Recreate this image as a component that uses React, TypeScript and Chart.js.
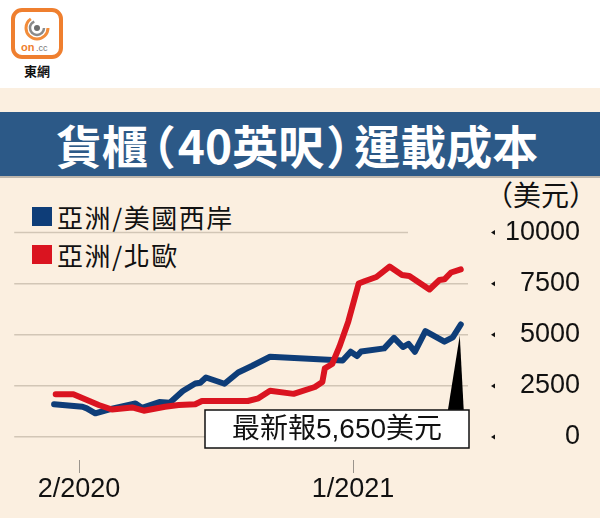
import React, { useEffect, useRef } from 'react';
import { Chart, registerables } from 'chart.js';

Chart.register(...registerables);

// ---- data ----
const titleText = ['貨櫃', '（', '40英呎', '）', '運載成本'];
const seriesNames = ['亞洲/美國西岸', '亞洲/北歐'];
const unitLabel = '（美元）';
const latestLabel = '最新報5,650美元';

const blueDates = [
  '2020-01-01', '2020-02-05', '2020-02-10', '2020-02-20', '2020-03-07', '2020-04-09',
  '2020-04-17', '2020-05-08', '2020-05-21', '2020-06-06', '2020-06-21', '2020-06-27',
  '2020-07-04', '2020-07-27', '2020-08-13', '2020-08-30', '2020-09-21', '2020-12-19',
  '2020-12-29', '2021-01-06', '2021-01-11', '2021-02-08', '2021-02-19', '2021-03-01',
  '2021-03-08', '2021-03-16', '2021-03-29', '2021-04-21', '2021-05-01', '2021-05-11',
];
const blueValues = [
  1600, 1480, 1400, 1160, 1345, 1640,
  1420, 1710, 1680, 2250, 2615, 2655,
  2910, 2605, 3155, 3470, 3925, 3740,
  4170, 3960, 4180, 4335, 4850, 4400,
  4550, 4170, 5175, 4660, 4875, 5500,
];

const redDates = [
  '2020-01-03', '2020-01-25', '2020-02-24', '2020-03-11', '2020-04-05', '2020-04-19',
  '2020-05-15', '2020-06-01', '2020-06-21', '2020-06-29', '2020-08-25', '2020-09-07',
  '2020-09-21', '2020-10-20', '2020-11-15', '2020-11-24', '2020-11-27', '2020-12-06',
  '2020-12-15', '2020-12-26', '2021-01-08', '2021-01-16', '2021-01-30', '2021-02-14',
  '2021-02-28', '2021-03-09', '2021-04-03', '2021-04-15', '2021-04-21', '2021-04-29',
  '2021-05-11',
];
const redValues = [
  2090, 2090, 1565, 1345, 1445, 1285,
  1480, 1565, 1600, 1760, 1760, 1890,
  2260, 2110, 2445, 2690, 3360, 3570,
  4415, 5640, 7505, 7630, 7825, 8335,
  7920, 7875, 7215, 7675, 7710, 8045,
  8200,
];

const yTickValues = [0, 2500, 5000, 7500, 10000];
const xTickDates = ['2020-02-01', '2021-01-01'];
const xTickLabels = ['2/2020', '1/2021'];
const xRangeDates = ['2019-11-13', '2021-05-20'];

// ---- styles ----
const BLUE = '#0E3D78';
const RED = '#DA1420';
const GRID = '#D2C6B6';
const CREAM = '#FBEFE0';
const LATIN = '"Liberation Sans", Arial, sans-serif';
const CJK = '"Noto Sans CJK TC", "Noto Sans CJK SC", sans-serif';

function toMonth(d: string): number {
  const [y, m, day] = d.split('-').map(Number);
  const dim = new Date(y, m, 0).getDate();
  return (y - 2020) * 12 + (m - 1) + (day - 1) / dim;
}

const decorPlugin = {
  id: 'decor',
  beforeDatasetsDraw(chart: any) {
    const { ctx, chartArea } = chart;
    const y = chart.scales.y.getPixelForValue(10000);
    ctx.save();
    ctx.strokeStyle = GRID;
    ctx.lineWidth = 1.5;
    ctx.beginPath();
    ctx.moveTo(chartArea.left, y);
    ctx.lineTo(chartArea.right - 60, y);
    ctx.stroke();
    ctx.restore();
  },
  afterDatasetsDraw(chart: any) {
    const { ctx, chartArea } = chart;
    const meta = chart.getDatasetMeta(1);
    const last = meta.data[meta.data.length - 1];
    const boxRight = chartArea.right + 1;
    const boxLeft = boxRight - 264;
    const boxTop = chartArea.bottom - 27;
    const boxH = 38;
    ctx.save();
    // spike
    ctx.fillStyle = '#000';
    ctx.beginPath();
    ctx.moveTo(last.x - 1, last.y + 11);
    ctx.lineTo(last.x + 3, boxTop + 1);
    ctx.lineTo(last.x - 13, boxTop + 1);
    ctx.closePath();
    ctx.fill();
    // box
    ctx.fillStyle = '#fff';
    ctx.fillRect(boxLeft, boxTop, boxRight - boxLeft, boxH);
    ctx.strokeStyle = '#111';
    ctx.lineWidth = 1.5;
    ctx.strokeRect(boxLeft, boxTop, boxRight - boxLeft, boxH);
    ctx.fillStyle = '#111';
    ctx.font = `28px "Liberation Sans", ${CJK}`;
    ctx.textAlign = 'center';
    ctx.textBaseline = 'middle';
    ctx.fillText(latestLabel, (boxLeft + boxRight) / 2, boxTop + boxH / 2 + 1);
    ctx.restore();
  },
  afterDraw(chart: any) {
    const { ctx, chartArea } = chart;
    ctx.save();
    // y tick triangles
    ctx.fillStyle = '#111';
    chart.scales.y.ticks.forEach((t: any) => {
      const y = chart.scales.y.getPixelForValue(t.value);
      const x = chartArea.right + 23;
      ctx.beginPath();
      ctx.moveTo(x, y);
      ctx.lineTo(x + 4, y - 2.5);
      ctx.lineTo(x + 4, y + 2.5);
      ctx.closePath();
      ctx.fill();
    });
    // x tick marks
    ctx.strokeStyle = '#9a948c';
    ctx.lineWidth = 1;
    chart.scales.x.ticks.forEach((t: any) => {
      const x = Math.round(chart.scales.x.getPixelForValue(t.value)) + 0.5;
      ctx.beginPath();
      ctx.moveTo(x, chartArea.bottom + 23);
      ctx.lineTo(x, chartArea.bottom + 36);
      ctx.stroke();
    });
    ctx.restore();
  },
};

function Logo() {
  return (
    <svg width={80} height={90} style={{ position: 'absolute', left: 0, top: 0 }}>
      <rect x={13} y={10} width={48} height={47} rx={9} ry={9} fill="#fff" stroke="#EF7F2F" strokeWidth={4} />
      <circle cx={37} cy={28} r={11} fill="none" stroke="#F28C3A" strokeWidth={3} strokeDasharray="45 30" />
      <circle cx={37} cy={28} r={7} fill="none" stroke="#8a8a8a" strokeWidth={2.5} strokeDasharray="30 14" />
      <circle cx={37} cy={28} r={3} fill="#6e6e6e" />
      <text x={21} y={51} fontFamily={LATIN} fontSize={11} fontWeight="bold" fill="#EF7F2F">on</text>
      <text x={36} y={51} fontFamily={LATIN} fontSize={9} fill="#777">.cc</text>
      <text x={37} y={76} textAnchor="middle" fontFamily={CJK} fontSize={13} fontWeight="bold" fill="#111">東網</text>
    </svg>
  );
}

export default function App() {
  const canvasRef = useRef<HTMLCanvasElement | null>(null);

  useEffect(() => {
    const canvas = canvasRef.current;
    if (!canvas) return;
    const chart = new Chart(canvas, {
      type: 'line',
      data: {
        datasets: [
          {
            label: seriesNames[1],
            data: redDates.map((d, i) => ({ x: toMonth(d), y: redValues[i] })),
            borderColor: RED,
            backgroundColor: RED,
            borderWidth: 6,
            pointRadius: 0,
            tension: 0,
            borderJoinStyle: 'round',
            borderCapStyle: 'round',
          },
          {
            label: seriesNames[0],
            data: blueDates.map((d, i) => ({ x: toMonth(d), y: blueValues[i] })),
            borderColor: BLUE,
            backgroundColor: BLUE,
            borderWidth: 6,
            pointRadius: 0,
            tension: 0,
            borderJoinStyle: 'round',
            borderCapStyle: 'round',
          },
        ],
      },
      options: {
        responsive: false,
        animation: false,
        layout: { padding: { left: 12, top: 232.5, right: 20, bottom: 0 } },
        plugins: { legend: { display: false }, tooltip: { enabled: false } },
        scales: {
          x: {
            type: 'linear',
            min: toMonth(xRangeDates[0]),
            max: toMonth(xRangeDates[1]),
            grid: { display: false, drawTicks: false },
            border: { display: false },
            afterBuildTicks: (s: any) => {
              s.ticks = xTickDates.map((d) => ({ value: toMonth(d) }));
            },
            afterFit: (s: any) => {
              s.height = 81;
            },
            ticks: {
              autoSkip: false,
              maxRotation: 0,
              padding: 36,
              color: '#111',
              font: { family: LATIN, size: 27 },
              callback: (_v: any, i: number) => xTickLabels[i],
            },
          },
          y: {
            position: 'right',
            min: 0,
            max: 10000,
            grid: {
              color: (c: any) => (c.tick && c.tick.value === 10000 ? 'rgba(0,0,0,0)' : GRID),
              lineWidth: 1.5,
              drawTicks: false,
            },
            border: { display: false },
            afterBuildTicks: (s: any) => {
              s.ticks = yTickValues.map((v) => ({ value: v }));
            },
            afterFit: (s: any) => {
              s.width = 112;
            },
            ticks: {
              crossAlign: 'far',
              padding: 15,
              color: '#111',
              font: { family: LATIN, size: 27 },
              callback: (v: any) => String(v),
            },
          },
        },
      } as any,
      plugins: [decorPlugin],
    });
    return () => chart.destroy();
  }, []);

  return (
    <div style={{ position: 'absolute', left: 0, top: 0, width: 600, height: 518, background: CREAM, overflow: 'hidden' }}>
      <div style={{ position: 'absolute', left: 0, top: 0, width: 600, height: 88, background: '#fff' }} />
      <Logo />
      <div
        style={{
          position: 'absolute', left: 0, top: 112, width: 600, height: 64,
          background: '#2C5987', borderBottom: '2px solid #BDB5AB',
          color: '#fff', fontFamily: CJK, fontWeight: 700, fontSize: 46,
          lineHeight: '64px', textAlign: 'center', whiteSpace: 'nowrap',
        }}
      >
        <span style={{ position: 'relative', left: -3 }}>
          {titleText[0]}
          <span style={{ margin: '0 2px 0 -18px' }}>{titleText[1]}</span>
          {titleText[2]}
          <span style={{ margin: '0 -18px 0 2px' }}>{titleText[3]}</span>
          {titleText[4]}
        </span>
      </div>
      <div style={{ position: 'absolute', left: 32, top: 207, width: 20, height: 19, background: BLUE }} />
      <div style={{ position: 'absolute', left: 57, top: 201, fontFamily: CJK, fontSize: 26, letterSpacing: 1.5, lineHeight: '32px', color: '#111', whiteSpace: 'nowrap' }}>
        {seriesNames[0]}
      </div>
      <div style={{ position: 'absolute', left: 32, top: 245, width: 20, height: 19, background: RED }} />
      <div style={{ position: 'absolute', left: 57, top: 239, fontFamily: CJK, fontSize: 26, letterSpacing: 1.5, lineHeight: '32px', color: '#111', whiteSpace: 'nowrap' }}>
        {seriesNames[1]}
      </div>
      <div style={{ position: 'absolute', left: 485, top: 179, fontFamily: CJK, fontSize: 28, lineHeight: '30px', color: '#111', whiteSpace: 'nowrap' }}>
        {unitLabel}
      </div>
      <canvas ref={canvasRef} width={600} height={518} style={{ position: 'absolute', left: 0, top: 0, display: 'block' }} />
    </div>
  );
}
